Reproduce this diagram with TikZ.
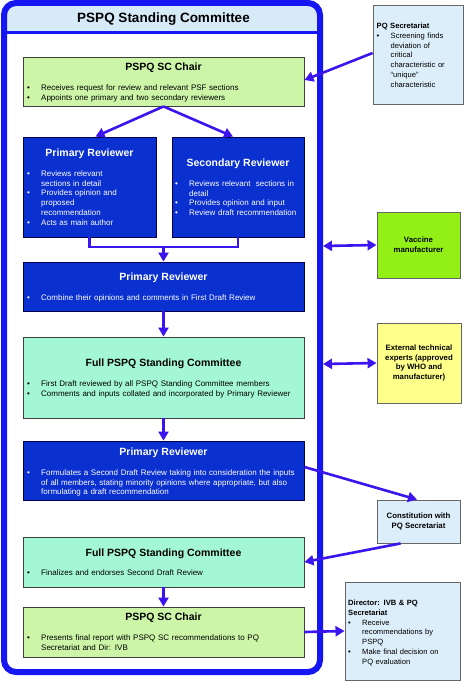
\documentclass[tikz,border=0pt]{standalone}
\usepackage{fontspec}
\setmainfont{Liberation Sans}
\definecolor{frameblue}{HTML}{1616F2}
\definecolor{arrowblue}{HTML}{3C14EE}
\definecolor{deepblue}{HTML}{0A30D0}
\definecolor{chairgreen}{HTML}{CCF5A8}
\definecolor{fullteal}{HTML}{A4F7D4}
\definecolor{paleblue}{HTML}{DCEEFA}
\definecolor{bandblue}{HTML}{D6EAF8}
\definecolor{vacgreen}{HTML}{92F016}
\definecolor{expyellow}{HTML}{FFFF8C}
\usetikzlibrary{arrows.meta, calc}
\newcommand{\bul}[1]
{
	\noindent\hangindent=14pt\hangafter=1\makebox[14pt][l]{\textbullet}#1\par
}

\begin{document}
\begin{tikzpicture}[x=1pt, y=-1pt,
	every node/.append style={inner sep=0pt},
	box/.style={draw=#1, line width=0.9pt, rectangle},
	title/.style={anchor=base, font=\bfseries\fontsize{10.5}{12}\selectfont},
	txt/.style={anchor=base west, align=left, text width=275, font=\fontsize{8}{9.7}\selectfont},
	side/.style={anchor=base west, align=left, font=\fontsize{7.6}{9.8}\selectfont},
	sidebold/.style={align=center, font=\bfseries\fontsize{7.8}{9.7}\selectfont},
	arr/.style={draw=arrowblue, line width=2.6pt, -{Triangle[length=9pt, width=10pt]}},
	twoway/.style={draw=arrowblue, line width=2.6pt, {Triangle[length=9pt, width=10pt]}-{Triangle[length=9pt, width=10pt]}}]
	\fill[white] (0,0) rectangle (474,682);
	\useasboundingbox (0,0) rectangle (474,682);
	\begin{scope}
		\clip[rounded corners=12] (4,3) rectangle (320,672);
		\fill[bandblue] (0,0) rectangle (330,32);
	\end{scope}
	\draw[frameblue, line width=3] (4,32.5) -- (320,32.5);
	\draw[frameblue, line width=6, rounded corners=12] (4,3) rectangle (320,672);
	\node[title, font=\bfseries\fontsize{13.5}{15}\selectfont] (head) at (163.5,23) {PSPQ Standing Committee};
		\node[box=black!75, fill=chairgreen, minimum width=281, minimum height=49] at (163.5,81.5) (chair1){};
		\node[box=black!75, fill=chairgreen, minimum width=281, minimum height=50] at (163.5,632) (chair2){};
		\node[box=black!75, fill=fullteal, minimum width=281, minimum height=81] at (163.5,377.5) (full1){};
		\node[box=black!75, fill=fullteal, minimum width=281, minimum height=50] at (163.5,562) (full2){};
		\node[box=blue!30!black, fill=deepblue, minimum width=133, minimum height=100] at (89.5,187) (prim1){};
		\node[box=blue!30!black, fill=deepblue, minimum width=132, minimum height=100] at (238,187) (sec1){};
		\node[box=blue!30!black, fill=deepblue, minimum width=281, minimum height=49] at (163.5,286.5) (prim2){};
		\node[box=blue!30!black, fill=deepblue, minimum width=281, minimum height=59] at (163.5,470.5) (prim3){};
		\node[box=black!60, fill=paleblue, minimum width=90, minimum height=99] at (418,54.5) (pqsec){};
		\node[box=black!60, fill=vacgreen, minimum width=83, minimum height=66, sidebold] at (418.5,245) (vaccine){Vaccine\\manufacturer};
		\node[box=black!60, fill=expyellow, minimum width=84, minimum height=80, sidebold] at (419,363) (experts){External technical\\experts (approved\\by WHO and\\manufacturer)};
		\node[box=black!60, fill=paleblue, minimum width=83, minimum height=43, sidebold] at (418.5,521.5) (constit){Constitution with\\PQ Secretariat};
		\node[box=black!60, fill=paleblue, minimum width=115, minimum height=98] at (402.5,631) (director){};
	\node[title] at (163.5,70.5) {PSPQ SC Chair};
	\node[txt] at (27,90.5) {\bul{Receives request for review and relevant PSF sections}\bul{Appoints one primary and two secondary reviewers}};
	\node[title, text=white] at (89.5,156.5) {Primary Reviewer};
	\node[txt, text=white, text width=125] at (27,176.5) {\bul{Reviews relevant\newline sections in detail}\bul{Provides opinion and\newline proposed\newline recommendation}\bul{Acts as main author}};
	\node[title, text=white] at (238,166.5) {Secondary Reviewer};
	\node[txt, text=white, text width=125] at (175,186.5) {\bul{Reviews relevant\ \ sections in\newline detail}\bul{Provides opinion and input}\bul{Review draft recommendation}};
	\node[title, text=white] at (163.5,280.5) {Primary Reviewer};
	\node[txt, text=white] at (27,300.5) {\bul{Combine their opinions and comments in First Draft Review}};
	\node[title] at (163.5,366.5) {Full PSPQ Standing Committee};
	\node[txt] at (27,386.5) {\bul{First Draft reviewed by all PSPQ Standing Committee members}\bul{Comments and inputs collated and incorporated by Primary Reviewer}};
	\node[title, text=white] at (163.5,455.5) {Primary Reviewer};
	\node[txt, text=white] at (27,475.5) {\bul{Formulates a Second Draft Review taking into consideration the inputs\newline of all members, stating minority opinions where appropriate, but also\newline formulating a draft recommendation}};
	\node[title] at (163.5,556.5) {Full PSPQ Standing Committee};
	\node[txt] at (27,575.5) {\bul{Finalizes and endorses Second Draft Review}};
	\node[title] at (163.5,620.5) {PSPQ SC Chair};
	\node[txt] at (27,640.5) {\bul{Presents final report with PSPQ SC recommendations to PQ\newline Secretariat and Dir: IVB}};
	\node[side, text width=86] at (376.5,28.5) {{\bfseries PQ Secretariat}\par\bul{Screening finds\newline deviation of\newline critical\newline characteristic or\newline ``unique''\newline characteristic}};
	\node[side, text width=110] at (348,605.5) {{\bfseries Director: IVB \& PQ\newline Secretariat}\par\bul{Receive\newline recommendations by\newline PSPQ}\bul{Make final decision on\newline PQ evaluation}};
	\coordinate (join) at (163.5,247);
	\coordinate (vacend) at (323,246);
	\coordinate (expend) at (323,364);
		\draw[arr] (chair1.south) -- ([xshift=6pt]prim1.north);
		\draw[arr] (chair1.south) -- ([xshift=-5pt]sec1.north);
		\draw[draw=arrowblue, line width=2.6pt] (prim1.south) |- (join) -| (sec1.south);
		\draw[arr] (join) -- (prim2.north);
		\draw[arr] (prim2.south) -- (full1.north);
		\draw[arr] (full1.south) -- (prim3.north);
		\draw[arr] (full2.south) -- (chair2.north);
		\draw[arr] ([yshift=1.5pt]pqsec.west) -- ([yshift=1.5pt]chair1.east);
		\draw[twoway] (vacend) -- (vaccine.west);
		\draw[twoway] (expend) -- (experts.west);
		\draw[arr] ([yshift=3.5pt]prim3.east) -- ([xshift=-1.5pt]constit.north);
		\draw[arr] ([xshift=-18pt]constit.south) -- (full2.east);
		\draw[arr] (chair2.east) -- (director.west);
\end{tikzpicture}
\end{document}
